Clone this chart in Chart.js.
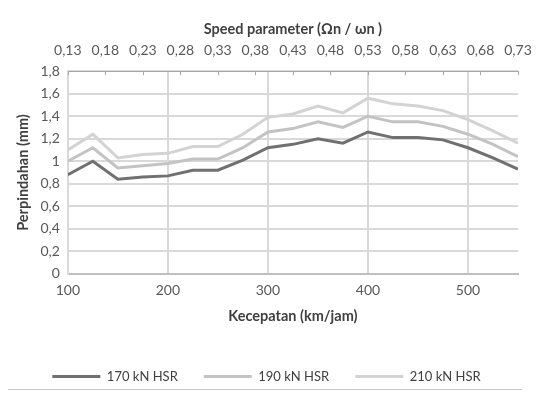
<!DOCTYPE html>
<html>
<head>
<meta charset="utf-8">
<script src="https://cdn.jsdelivr.net/npm/chart.js@4"></script>
<style>
  html, body { margin: 0; padding: 0; background: #fff; overflow: hidden; }
  #wrap { position: relative; width: 550px; height: 401px; overflow: hidden; }
  #rule { position: absolute; left: 8px; top: 389px; width: 514px; border-top: 1px solid #c8c8c8; }
  #caption { position: absolute; left: 0; width: 550px; top: 398px; text-align: center;
    font: 17px "Liberation Sans", Arial, sans-serif; color: #222; white-space: nowrap; }
</style>
</head>
<body>
<div id="wrap">
  <canvas id="chart" width="550" height="395"></canvas>
  <div id="rule"></div>
  <div id="caption">Perpindahan maksimal di lintasan rel kereta</div>
</div>
<script>
// kecepatan (km/jam)
const speeds = [100, 125, 150, 175, 200, 225, 250, 275, 300, 325, 350, 375, 400, 425, 450, 475, 500, 525, 550];
// perpindahan (mm)
const hsr170 = [0.88, 1.00, 0.84, 0.86, 0.87, 0.92, 0.92, 1.01, 1.12, 1.15, 1.20, 1.16, 1.26, 1.21, 1.21, 1.19, 1.12, 1.03, 0.93];
const hsr190 = [1.00, 1.12, 0.94, 0.96, 0.98, 1.02, 1.02, 1.12, 1.26, 1.29, 1.35, 1.30, 1.40, 1.35, 1.35, 1.31, 1.24, 1.15, 1.04];
const hsr210 = [1.10, 1.24, 1.03, 1.06, 1.07, 1.13, 1.13, 1.24, 1.39, 1.42, 1.49, 1.43, 1.56, 1.51, 1.49, 1.45, 1.37, 1.27, 1.16];

const seriesNames = ['170 kN HSR', '190 kN HSR', '210 kN HSR'];
const xTicks = [100, 200, 300, 400, 500];
const yTicks = [0, 0.2, 0.4, 0.6, 0.8, 1, 1.2, 1.4, 1.6, 1.8];
const speedParamTicks = [0.13, 0.18, 0.23, 0.28, 0.33, 0.38, 0.43, 0.48, 0.53, 0.58, 0.63, 0.68, 0.73];

const FONT = 'Lato, "Open Sans", sans-serif';
const comma = v => String(Math.round(v * 100) / 100).replace('.', ',');

const pts = arr => arr.map((v, i) => ({ x: speeds[i], y: v }));

// small tick marks hanging down from the top axis
const topTicks = {
  id: 'topTicks',
  afterDraw(chart) {
    const s = chart.scales.x2, ctx = chart.ctx;
    ctx.save();
    ctx.strokeStyle = '#a6a6a6';
    ctx.lineWidth = 1;
    s.ticks.forEach(t => {
      const px = Math.round(s.getPixelForValue(t.value)) + 0.5;
      ctx.beginPath();
      ctx.moveTo(px, s.bottom);
      ctx.lineTo(px, s.bottom + 4);
      ctx.stroke();
    });
    ctx.restore();
  }
};

new Chart(document.getElementById('chart'), {
  type: 'line',
  data: {
    datasets: [
      { label: seriesNames[0], data: pts(hsr170), borderColor: '#707070', backgroundColor: '#707070', borderWidth: 3, xAxisID: 'x' },
      { label: seriesNames[1], data: pts(hsr190), borderColor: '#c3c3c3', backgroundColor: '#c3c3c3', borderWidth: 3, xAxisID: 'x' },
      { label: seriesNames[2], data: pts(hsr210), borderColor: '#d3d3d3', backgroundColor: '#d3d3d3', borderWidth: 3, xAxisID: 'x' }
    ]
  },
  options: {
    responsive: false,
    animation: false,
    elements: { point: { radius: 0 }, line: { tension: 0 } },
    layout: { padding: { top: 21, right: 32, left: 15, bottom: 2 } },
    plugins: {
      tooltip: { enabled: false },
      legend: {
        position: 'bottom',
        labels: {
          usePointStyle: true,
          pointStyle: 'line',
          pointStyleWidth: 48,
          boxHeight: 3,
          padding: 26,
          color: '#404040',
          font: { family: FONT, size: 13 }
        }
      }
    },
    scales: {
      x: {
        type: 'linear', position: 'bottom', min: 100, max: 550,
        afterBuildTicks: s => { s.ticks = xTicks.map(v => ({ value: v })); },
        ticks: { color: '#595959', font: { family: FONT, size: 14 }, padding: 8, maxRotation: 0 },
        grid: { color: '#d9d9d9', lineWidth: 2, drawTicks: false },
        border: { color: '#bfbfbf', width: 2 },
        title: { display: true, text: 'Kecepatan (km/jam)', color: '#404040', font: { family: FONT, size: 14.5, weight: 'bold' }, padding: { top: 1, bottom: 19 } }
      },
      x2: {
        type: 'linear', position: 'top', min: 0.13, max: 0.73,
        afterBuildTicks: s => { s.ticks = speedParamTicks.map(v => ({ value: v })); },
        ticks: { color: '#595959', font: { family: FONT, size: 14 }, padding: 12, maxRotation: 0, callback: v => comma(v) },
        grid: { drawOnChartArea: false, drawTicks: false },
        border: { color: '#a6a6a6', width: 1 },
        title: { display: true, text: 'Speed parameter (Ωn / ωn )', color: '#404040', font: { family: FONT, size: 14.5, weight: 'bold' }, padding: { top: 0, bottom: -8 } }
      },
      y: {
        min: 0, max: 1.8,
        afterBuildTicks: s => { s.ticks = yTicks.map(v => ({ value: v })); },
        ticks: { color: '#595959', font: { family: FONT, size: 14 }, padding: 8, callback: v => comma(v) },
        grid: { color: '#d9d9d9', lineWidth: 2, drawTicks: false },
        border: { color: '#d9d9d9', width: 2 },
        title: { display: true, text: 'Perpindahan (mm)', color: '#404040', font: { family: FONT, size: 14.5, weight: 'bold' }, padding: { top: 0, bottom: 0 } }
      }
    }
  },
  plugins: [topTicks]
});
</script>
</body>
</html>
